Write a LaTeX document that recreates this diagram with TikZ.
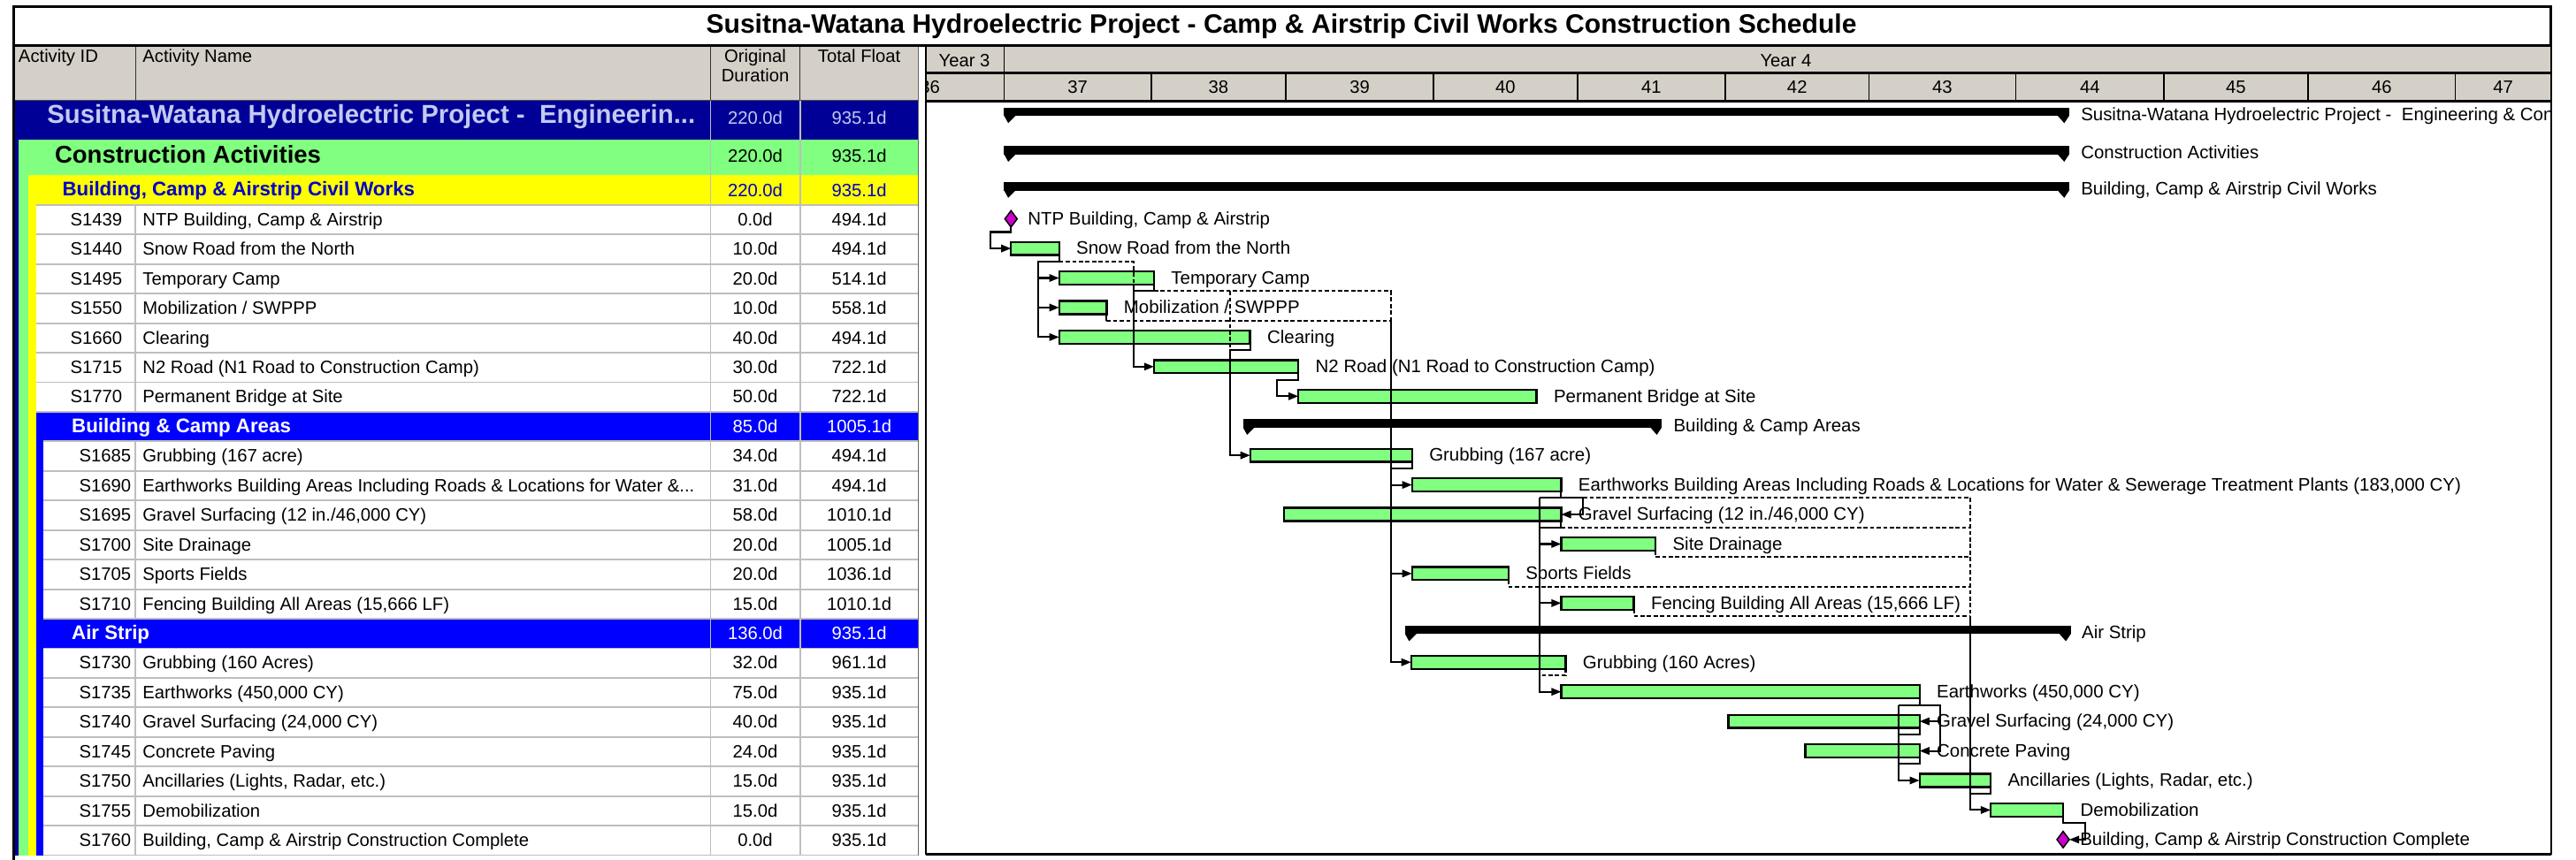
\documentclass[tikz,border=0pt]{standalone}
\usepackage{fontspec}
\setmainfont{Liberation Sans}
\usetikzlibrary{arrows.meta,shapes.geometric}
\definecolor{cNavy}{RGB}{0,0,150}
\definecolor{cNavyTxt}{RGB}{195,202,240}
\definecolor{cGreen}{RGB}{128,255,128}
\definecolor{cYel}{RGB}{255,255,0}
\definecolor{cGrp}{RGB}{0,0,255}
\definecolor{cYTxt}{RGB}{0,0,200}
\definecolor{cHdr}{RGB}{212,208,200}
\definecolor{cSep}{RGB}{190,190,190}
\definecolor{cMag}{RGB}{204,0,204}
\newcommand\myfN{\fontsize{10.9}{12}\selectfont}
\newcommand\myfG{\fontsize{11}{12}\selectfont}
\newcommand\myfTitle{\fontsize{16.2}{18}\selectfont\bfseries}
\newcommand\myfA{\fontsize{15.8}{18}\selectfont\bfseries}
\newcommand\myfB{\fontsize{14.8}{17}\selectfont\bfseries}
\newcommand\myfC{\fontsize{12}{14}\selectfont\bfseries}
\tikzset{
 gbar/.style={draw=black,line width=1.2pt,fill=cGreen,minimum height=8pt,inner sep=0pt,outer sep=0pt,anchor=west},
 sbar/.style={fill=black,draw=none,minimum height=5pt,inner sep=0pt,outer sep=0pt,anchor=north west},
 ms/.style={diamond,draw=black,line width=0.8pt,fill=cMag,minimum width=7.5pt,minimum height=10pt,inner sep=0pt,outer sep=0pt},
 rel/.style={line width=1.1pt},
 dsh/.style={line width=1.1pt,dash pattern=on 2.5pt off 1.5pt},
 arr/.style={-{Triangle[length=6pt,width=4.5pt]}},
 lbl/.style={anchor=mid west,inner sep=0pt,font=\myfG,yshift=-1pt},
 idt/.style={anchor=mid east,inner sep=0pt,font=\myfN,yshift=-1pt},
 nmt/.style={anchor=mid west,inner sep=0pt,font=\myfN,yshift=-1pt},
 num/.style={anchor=mid,inner sep=0pt,font=\myfN,yshift=-1pt},
 hd/.style={inner sep=0pt,font=\myfN},
 sepl/.style={draw=cSep,line width=1pt},
}
\begin{document}
\begin{tikzpicture}[x=1pt,y=-1pt]
\useasboundingbox (0,0) rectangle (1568,523.7);
\fill[white] (0,0) rectangle (1568,523.7);
% ---------------- title
\node[inner sep=0pt,font=\myfTitle] (title) at (780,15.8) {Susitna-Watana Hydroelectric Project - Camp \& Airstrip Civil Works Construction Schedule};
% ---------------- table backgrounds
\fill[cHdr] (8.4,27.8) rectangle (559,61);
\fill[cNavy] (8.4,61) rectangle (559,85);
\fill[cNavy] (8.4,85) rectangle (11.1,520.8);
\fill[cGreen] (11.1,85) rectangle (559,106.7);
\fill[cGreen] (11.1,106.7) rectangle (17.1,520.8);
\fill[cYel] (17.1,106.7) rectangle (559,124.8);
\fill[cYel] (17.1,124.8) rectangle (21.9,520.8);
\fill[cGrp] (21.9,250.8) rectangle (559,268.8);
\fill[cGrp] (21.9,268.8) rectangle (26.5,520.8);
\fill[cGrp] (26.5,376.8) rectangle (559,394.8);
% separators
\foreach \yy in {124.8,142.8,160.8,178.8,196.8,214.8,232.8,250.8}
  \draw[sepl] (21.9,\yy) -- (559,\yy);
\foreach \yy in {268.8,286.8,304.8,322.8,340.8,358.8,376.8,394.8,412.8,430.8,448.8,466.8,484.8,502.8,520.8}
  \draw[sepl] (26.5,\yy) -- (559,\yy);
\draw[sepl] (82.5,124.8) -- (82.5,250.8);
\draw[sepl] (82.5,268.8) -- (82.5,376.8);
\draw[sepl] (82.5,394.8) -- (82.5,520.8);
\draw[sepl] (432.5,61) -- (432.5,520.8);
\draw[sepl] (487,61) -- (487,520.8);
\draw[draw=black!60,line width=1pt] (559,27.8) -- (559,520.8);
% header lines
\draw[black!80,line width=0.8pt] (82.5,27.8) -- (82.5,61) (432.5,27.8) -- (432.5,61) (487,27.8) -- (487,61);
\draw[black!70,line width=0.7pt] (8.4,61) -- (559,61);
% header text
\node[hd,anchor=mid west] (hID) at (11.1,35.5) {Activity ID};
\node[hd,anchor=mid west] (hNM) at (86.7,35.5) {Activity Name};
\node[hd,anchor=mid] (hOD1) at (459.7,35.5) {Original};
\node[hd,anchor=mid] (hOD2) at (459.7,47.3) {Duration};
\node[hd,anchor=mid] (hTF) at (523,35.5) {Total Float};
% summary rows text
\node[anchor=mid west,inner sep=0pt,font=\myfA,text=cNavyTxt] (r1n) at (28.5,72.5) {Susitna-Watana Hydroelectric Project -\ \ Engineerin...};
\node[num,text=cNavyTxt] (r1d) at (459.7,71.8) {220.0d};
\node[num,text=cNavyTxt] (r1f) at (523,71.8) {935.1d};
\node[anchor=mid west,inner sep=0pt,font=\myfB] (r2n) at (33.2,96.5) {Construction Activities};
\node[num] (r2d) at (459.7,95) {220.0d};
\node[num] (r2f) at (523,95) {935.1d};
\node[anchor=mid west,inner sep=0pt,font=\myfC,text=cYTxt] (r3n) at (37.8,116.5) {Building, Camp \& Airstrip Civil Works};
\node[num,text=cYTxt] (r3d) at (459.7,116.2) {220.0d};
\node[num,text=cYTxt] (r3f) at (523,116.2) {935.1d};
% leaf rows
\node[idt] (i1439) at (74.6,133.8) {S1439}; \node[nmt] (n1439) at (86.7,133.8) {NTP Building, Camp \& Airstrip}; \node[num] (d1439) at (459.7,133.8) {0.0d}; \node[num] (f1439) at (523,133.8) {494.1d};
\node[idt] (i1440) at (74.6,151.8) {S1440}; \node[nmt] (n1440) at (86.7,151.8) {Snow Road from the North}; \node[num] (d1440) at (459.7,151.8) {10.0d}; \node[num] (f1440) at (523,151.8) {494.1d};
\node[idt] (i1495) at (74.6,169.8) {S1495}; \node[nmt] (n1495) at (86.7,169.8) {Temporary Camp}; \node[num] (d1495) at (459.7,169.8) {20.0d}; \node[num] (f1495) at (523,169.8) {514.1d};
\node[idt] (i1550) at (74.6,187.8) {S1550}; \node[nmt] (n1550) at (86.7,187.8) {Mobilization / SWPPP}; \node[num] (d1550) at (459.7,187.8) {10.0d}; \node[num] (f1550) at (523,187.8) {558.1d};
\node[idt] (i1660) at (74.6,205.8) {S1660}; \node[nmt] (n1660) at (86.7,205.8) {Clearing}; \node[num] (d1660) at (459.7,205.8) {40.0d}; \node[num] (f1660) at (523,205.8) {494.1d};
\node[idt] (i1715) at (74.6,223.8) {S1715}; \node[nmt] (n1715) at (86.7,223.8) {N2 Road (N1 Road to Construction Camp)}; \node[num] (d1715) at (459.7,223.8) {30.0d}; \node[num] (f1715) at (523,223.8) {722.1d};
\node[idt] (i1770) at (74.6,241.8) {S1770}; \node[nmt] (n1770) at (86.7,241.8) {Permanent Bridge at Site}; \node[num] (d1770) at (459.7,241.8) {50.0d}; \node[num] (f1770) at (523,241.8) {722.1d};
\node[anchor=mid west,inner sep=0pt,font=\myfC,text=white,yshift=-1pt] (gBCn) at (43.5,259.8) {Building \& Camp Areas}; \node[num,text=white] (gBCd) at (459.7,259.8) {85.0d}; \node[num,text=white] (gBCf) at (523,259.8) {1005.1d};
\node[idt] (i1685) at (80,277.8) {S1685}; \node[nmt] (n1685) at (86.7,277.8) {Grubbing (167 acre)}; \node[num] (d1685) at (459.7,277.8) {34.0d}; \node[num] (f1685) at (523,277.8) {494.1d};
\node[idt] (i1690) at (80,295.8) {S1690}; \node[nmt] (n1690) at (86.7,295.8) {Earthworks Building Areas Including Roads \& Locations for Water \&...}; \node[num] (d1690) at (459.7,295.8) {31.0d}; \node[num] (f1690) at (523,295.8) {494.1d};
\node[idt] (i1695) at (80,313.8) {S1695}; \node[nmt] (n1695) at (86.7,313.8) {Gravel Surfacing (12 in./46,000 CY)}; \node[num] (d1695) at (459.7,313.8) {58.0d}; \node[num] (f1695) at (523,313.8) {1010.1d};
\node[idt] (i1700) at (80,331.8) {S1700}; \node[nmt] (n1700) at (86.7,331.8) {Site Drainage}; \node[num] (d1700) at (459.7,331.8) {20.0d}; \node[num] (f1700) at (523,331.8) {1005.1d};
\node[idt] (i1705) at (80,349.8) {S1705}; \node[nmt] (n1705) at (86.7,349.8) {Sports Fields}; \node[num] (d1705) at (459.7,349.8) {20.0d}; \node[num] (f1705) at (523,349.8) {1036.1d};
\node[idt] (i1710) at (80,367.8) {S1710}; \node[nmt] (n1710) at (86.7,367.8) {Fencing Building All Areas (15,666 LF)}; \node[num] (d1710) at (459.7,367.8) {15.0d}; \node[num] (f1710) at (523,367.8) {1010.1d};
\node[anchor=mid west,inner sep=0pt,font=\myfC,text=white,yshift=-1pt] (gASn) at (43.5,385.8) {Air Strip}; \node[num,text=white] (gASd) at (459.7,385.8) {136.0d}; \node[num,text=white] (gASf) at (523,385.8) {935.1d};
\node[idt] (i1730) at (80,403.8) {S1730}; \node[nmt] (n1730) at (86.7,403.8) {Grubbing (160 Acres)}; \node[num] (d1730) at (459.7,403.8) {32.0d}; \node[num] (f1730) at (523,403.8) {961.1d};
\node[idt] (i1735) at (80,421.8) {S1735}; \node[nmt] (n1735) at (86.7,421.8) {Earthworks (450,000 CY)}; \node[num] (d1735) at (459.7,421.8) {75.0d}; \node[num] (f1735) at (523,421.8) {935.1d};
\node[idt] (i1740) at (80,439.8) {S1740}; \node[nmt] (n1740) at (86.7,439.8) {Gravel Surfacing (24,000 CY)}; \node[num] (d1740) at (459.7,439.8) {40.0d}; \node[num] (f1740) at (523,439.8) {935.1d};
\node[idt] (i1745) at (80,457.8) {S1745}; \node[nmt] (n1745) at (86.7,457.8) {Concrete Paving}; \node[num] (d1745) at (459.7,457.8) {24.0d}; \node[num] (f1745) at (523,457.8) {935.1d};
\node[idt] (i1750) at (80,475.8) {S1750}; \node[nmt] (n1750) at (86.7,475.8) {Ancillaries (Lights, Radar, etc.)}; \node[num] (d1750) at (459.7,475.8) {15.0d}; \node[num] (f1750) at (523,475.8) {935.1d};
\node[idt] (i1755) at (80,493.8) {S1755}; \node[nmt] (n1755) at (86.7,493.8) {Demobilization}; \node[num] (d1755) at (459.7,493.8) {15.0d}; \node[num] (f1755) at (523,493.8) {935.1d};
\node[idt] (i1760) at (80,511.8) {S1760}; \node[nmt] (n1760) at (86.7,511.8) {Building, Camp \& Airstrip Construction Complete}; \node[num] (d1760) at (459.7,511.8) {0.0d}; \node[num] (f1760) at (523,511.8) {935.1d};
% ---------------- gantt header
\fill[cHdr] (563.5,28.7) rectangle (1552.8,61.5);
\draw[black,line width=0.8pt] (611.3,28.7) -- (611.3,61.5);
\foreach \xx in {700.8,782.6,872.6,960.2,1050.2,1137.5,1227,1317.2,1404.8,1494.5}
  \draw[black,line width=0.8pt] (\xx,44.4) -- (\xx,61.5);
\draw[black,line width=1.3pt] (563.5,44.4) -- (1552.8,44.4);
\draw[black,line width=1.5pt] (563.5,61.5) -- (1552.8,61.5);
\node[hd] (y3) at (587,36.7) {Year 3};
\node[hd] (y4) at (1087,36.7) {Year 4};
\begin{scope}
\clip (563.5,44.4) rectangle (611.3,61.5);
\node[hd] (w36) at (566,53.2) {36};
\end{scope}
\node[hd] (w37) at (656,53.2) {37};
\node[hd] (w38) at (741.7,53.2) {38};
\node[hd] (w39) at (827.6,53.2) {39};
\node[hd] (w40) at (916.4,53.2) {40};
\node[hd] (w41) at (1005.2,53.2) {41};
\node[hd] (w42) at (1093.9,53.2) {42};
\node[hd] (w43) at (1182.3,53.2) {43};
\node[hd] (w44) at (1272.1,53.2) {44};
\node[hd] (w45) at (1361,53.2) {45};
\node[hd] (w46) at (1449.7,53.2) {46};
\node[hd] (w47) at (1523.6,53.2) {47};
% ---------------- summary bars
\node[sbar,minimum width=648.3pt] (s1) at (611.2,65.5) {};
\node[sbar,minimum width=648.3pt] (s2) at (611.2,89) {};
\node[sbar,minimum width=648.3pt] (s3) at (611.2,111) {};
\node[sbar,minimum width=254.9pt] (sBC) at (756.6,255.3) {};
\node[sbar,minimum width=405.3pt] (sAS) at (855.2,381) {};
\foreach \s in {s1,s2,s3,sBC,sAS}{
  \fill (\s.south west) -- ++(7,0) -- ++(-4.5,4.5) -- cycle;
  \fill (\s.south east) -- ++(-7,0) -- ++(4,4.5) -- cycle;
}
\begin{scope}
\clip (563.5,61.5) rectangle (1552,520);
\node[lbl] (ls1) at ([xshift=7pt,yshift=-2pt]s1.east) {Susitna-Watana Hydroelectric Project -\ \ Engineering \& Con};
\end{scope}
\node[lbl] (ls2) at ([xshift=7pt,yshift=-1.5pt]s2.east) {Construction Activities};
\node[lbl] (ls3) at ([xshift=7pt,yshift=-1.5pt]s3.east) {Building, Camp \& Airstrip Civil Works};
\node[lbl] (lsBC) at ([xshift=7pt,yshift=-1.5pt]sBC.east) {Building \& Camp Areas};
\node[lbl] (lsAS) at ([xshift=6.5pt,yshift=-1.5pt]sAS.east) {Air Strip};
% ---------------- activity bars
\node[gbar,minimum width=29.3pt] (b1440) at (615.4,151.3) {};
\node[gbar,minimum width=57.7pt] (b1495) at (644.7,169.3) {};
\node[gbar,minimum width=28.9pt] (b1550) at (644.7,187.3) {};
\node[gbar,minimum width=116.2pt] (b1660) at (644.7,205.3) {};
\node[gbar,minimum width=87.9pt] (b1715) at (702.4,223.3) {};
\node[gbar,minimum width=145pt] (b1770) at (790.3,241.3) {};
\node[gbar,minimum width=98.5pt] (b1685) at (761,277.3) {};
\node[gbar,minimum width=90.8pt] (b1690) at (859.5,295.3) {};
\node[gbar,minimum width=168.8pt] (b1695) at (781.5,313.3) {};
\node[gbar,minimum width=57.4pt] (b1700) at (950.3,331.3) {};
\node[gbar,minimum width=58.7pt] (b1705) at (859.5,349.3) {};
\node[gbar,minimum width=44.2pt] (b1710) at (950.3,367.3) {};
\node[gbar,minimum width=94pt] (b1730) at (859,403.3) {};
\node[gbar,minimum width=218.1pt] (b1735) at (950.3,421.3) {};
\node[gbar,minimum width=116.4pt] (b1740) at (1052,439.3) {};
\node[gbar,minimum width=69.5pt] (b1745) at (1098.9,457.3) {};
\node[gbar,minimum width=43.3pt] (b1750) at (1168.4,475.3) {};
\node[gbar,minimum width=44.1pt] (b1755) at (1211.7,493.3) {};
% ---------------- relationship lines
\coordinate (c1) at (602.7,141.3);
\coordinate (c2) at (631.8,159.3);
\coordinate (c3) at (690,177.3);
\coordinate (c4) at (846.6,195.3);
\coordinate (c5) at (748.5,213.3);
\coordinate (c6) at (777.2,231.3);
\coordinate (c7) at (846.6,285.3);
\coordinate (c8) at (963.6,303.3);
\coordinate (c9) at (937.3,303.3);
\coordinate (c10) at (1199.3,303.3);
\coordinate (c11) at (937.3,321.3);
\coordinate (c12) at (1199.3,339.3);
\coordinate (c13) at (1199.3,357.3);
\coordinate (c14) at (1199.3,375.3);
\coordinate (c15) at (937.3,411.3);
\coordinate (c16) at (1180.8,429.3);
\coordinate (c17) at (1155.5,429.3);
\coordinate (c18) at (1155.5,447.3);
\coordinate (c19) at (1155.5,465.3);
\coordinate (c20) at (1199.3,483.3);
\coordinate (c21) at (1269.1,501.3);
% milestones
\node[ms] (m1439) at (615.4,133.3) {};
\node[ms] (m1760) at (1255.8,511.3) {};
\draw[rel,arr] (m1439.south) |- (c1) |- (b1440.west);
\draw[rel,arr] (b1440.south east) |- (c2) |- (b1660.west);
\draw[rel,arr] (c2 |- b1495.west) -- (b1495.west);
\draw[rel,arr] (c2 |- b1550.west) -- (b1550.west);
\draw[dsh] (b1440.south east |- c2) -| (c3);
\draw[rel,arr] (b1495.south east) |- (c3) |- (b1715.west);
\draw[dsh] (b1495.south east |- c3) -| (c4);
\draw[rel] (b1550.south east) -- (b1550.south east |- c4);
\draw[dsh] (b1550.south east |- c4) -- (c4);
\draw[dsh] (c5 |- c3) -- (c5);
\draw[rel,arr] (b1660.south east) |- (c5) |- (b1685.west);
\draw[rel,arr] (b1715.south east) |- (c6) |- (b1770.west);
\draw[rel,arr] (c4) |- (b1730.west);
\draw[rel] (b1685.south east) |- (c7);
\draw[rel,arr] (c7 |- b1690.west) -- (b1690.west);
\draw[rel,arr] (c7 |- b1705.west) -- (b1705.west);
\draw[rel,arr] (b1690.south east) |- (c8) |- (b1695.east);
\draw[rel] (b1690.south east |- c8) -- (c9);
\draw[rel,arr] (c9) |- (b1735.west);
\draw[dsh] (c8) -- (c10);
\draw[rel,arr] (c9 |- b1700.west) -- (b1700.west);
\draw[rel,arr] (c9 |- b1710.west) -- (b1710.west);
\draw[rel] (b1695.south east) |- (c11);
\draw[dsh] (b1695.south east |- c11) -- (c10 |- c11);
\draw[dsh] (b1700.south east) |- (c12);
\draw[dsh] (b1705.south east) |- (c13);
\draw[dsh] (b1710.south east) |- (c14);
\draw[dsh] (c10) -- (c14);
\draw[rel,arr] (c14) |- (b1755.west);
\draw[dsh] (b1730.south east) |- (c15);
\draw[rel,arr] (b1735.south east) |- (c16) |- (b1745.east);
\draw[rel,arr] (c16 |- b1740.east) -- (b1740.east);
\draw[rel] (b1735.south east |- c16) -- (c17);
\draw[rel,arr] (c17) |- (b1750.west);
\draw[rel] (b1740.south east) |- (c18);
\draw[rel] (b1745.south east) |- (c19);
\draw[rel] (b1750.south east) |- (c20);
\draw[rel,arr] (b1755.south east) |- (c21) |- (m1760.east);
% ---------------- bar labels
\node[lbl] (t1439) at ([xshift=10.1pt]m1439.center) {NTP Building, Camp \& Airstrip};
\node[lbl] (t1440) at ([xshift=10.3pt]b1440.east) {Snow Road from the North};
\node[lbl] (t1495) at ([xshift=10.3pt]b1495.east) {Temporary Camp};
\node[lbl] (t1550) at ([xshift=10.3pt]b1550.east) {Mobilization / SWPPP};
\node[lbl] (t1660) at ([xshift=10.3pt]b1660.east) {Clearing};
\node[lbl] (t1715) at ([xshift=10.3pt]b1715.east) {N2 Road (N1 Road to Construction Camp)};
\node[lbl] (t1770) at ([xshift=10.3pt]b1770.east) {Permanent Bridge at Site};
\node[lbl] (t1685) at ([xshift=10.3pt]b1685.east) {Grubbing (167 acre)};
\node[lbl] (t1690) at ([xshift=10.3pt]b1690.east) {Earthworks Building Areas Including Roads \& Locations for Water \& Sewerage Treatment Plants (183,000 CY)};
\node[lbl] (t1695) at ([xshift=10.3pt]b1695.east) {Gravel Surfacing (12 in./46,000 CY)};
\node[lbl] (t1700) at ([xshift=10.3pt]b1700.east) {Site Drainage};
\node[lbl] (t1705) at ([xshift=10.3pt]b1705.east) {Sports Fields};
\node[lbl] (t1710) at ([xshift=10.3pt]b1710.east) {Fencing Building All Areas (15,666 LF)};
\node[lbl] (t1730) at ([xshift=10.3pt]b1730.east) {Grubbing (160 Acres)};
\node[lbl] (t1735) at ([xshift=10.3pt]b1735.east) {Earthworks (450,000 CY)};
\node[lbl] (t1740) at ([xshift=10.3pt]b1740.east) {Gravel Surfacing (24,000 CY)};
\node[lbl] (t1745) at ([xshift=10.3pt]b1745.east) {Concrete Paving};
\node[lbl] (t1750) at ([xshift=10.3pt]b1750.east) {Ancillaries (Lights, Radar, etc.)};
\node[lbl] (t1755) at ([xshift=10.3pt]b1755.east) {Demobilization};
\node[lbl] (t1760) at ([xshift=10.2pt]m1760.center) {Building, Camp \& Airstrip Construction Complete};
% ---------------- frames
\draw[black,line width=1.5pt] (8.4,4) rectangle (1552.8,27.8);
\draw[black,line width=1.2pt] (8.4,27.8) -- (8.4,523.7);
\draw[black,line width=1.2pt] (563.5,27.8) -- (563.5,520.3);
\draw[black,line width=1.2pt] (1552.8,27.8) -- (1552.8,520.3);
\draw[black,line width=1.8pt] (563.5,520.3) -- (1552.8,520.3);
\end{tikzpicture}
\end{document}
